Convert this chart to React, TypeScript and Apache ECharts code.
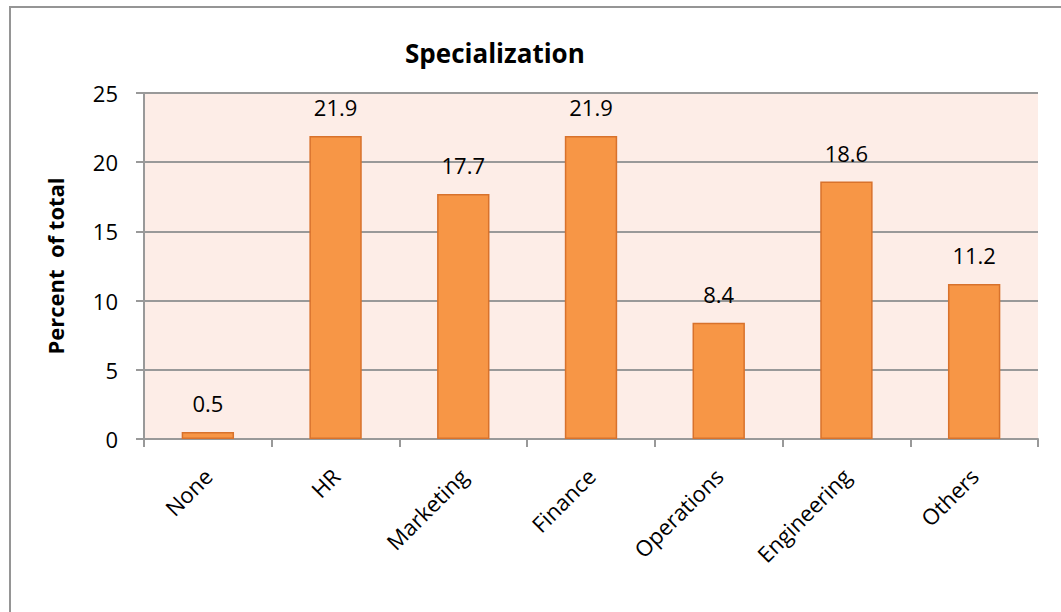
import React, { useEffect, useRef } from "react";
import * as echarts from "echarts";

const categories = ["None", "HR", "Marketing", "Finance", "Operations", "Engineering", "Others"];
const percentValues = [0.5, 21.9, 17.7, 21.9, 8.4, 18.6, 11.2];
const chartTitle = "Specialization";
const yAxisTitle = "Percent  of total";

export default function App() {
  const ref = useRef<HTMLDivElement>(null);
  useEffect(() => {
    if (!ref.current) return;
    const chart = echarts.init(ref.current, undefined, { renderer: "svg" });
    const font = "'Open Sans', 'Liberation Sans', sans-serif";
    chart.setOption({
      animation: false,
      backgroundColor: "#ffffff",
      textStyle: { fontFamily: font },
      title: {
        text: chartTitle,
        left: 400,
        top: 35,
        textStyle: { fontFamily: font, fontSize: 26, fontWeight: "bold", color: "#000" },
      },
      graphic: [
        {
          type: "rect",
          shape: { x: 10, y: 7, width: 1100, height: 700 },
          style: { fill: "none", stroke: "#959595", lineWidth: 2 },
          silent: true,
        },
      ],
      grid: {
        left: 144,
        right: 23,
        top: 93,
        bottom: 173,
        show: true,
        backgroundColor: "#fdede7",
        borderWidth: 0,
      },
      xAxis: {
        type: "category",
        data: categories,
        axisLine: { show: true, lineStyle: { color: "#999", width: 2 } },
        axisTick: { show: true, alignWithLabel: false, length: 8, lineStyle: { color: "#999", width: 2 } },
        axisLabel: {
          rotate: 45,
          margin: 33,
          fontSize: 22,
          color: "#000",
          fontFamily: font,
          interval: 0,
        },
      },
      yAxis: {
        type: "value",
        min: 0,
        max: 25,
        interval: 5,
        name: yAxisTitle,
        nameLocation: "middle",
        nameRotate: 90,
        nameGap: 78,
        nameTextStyle: { fontFamily: font, fontSize: 22, fontWeight: "bold", color: "#000" },
        axisLine: { show: true, lineStyle: { color: "#999", width: 2 } },
        axisTick: { show: true, length: 8, lineStyle: { color: "#999", width: 2 } },
        axisLabel: { margin: 26, fontSize: 22, color: "#000", fontFamily: font },
        splitLine: { show: true, lineStyle: { color: "#999", width: 2 } },
      },
      series: [
        {
          type: "bar",
          data: percentValues,
          barWidth: "41%",
          itemStyle: { color: "#f79646", borderColor: "#d8722c", borderWidth: 1.5 },
          label: {
            show: true,
            position: "top",
            distance: 18,
            fontSize: 22,
            color: "#000",
            fontFamily: font,
          },
        },
      ],
    });
    return () => chart.dispose();
  }, []);
  return (
    <div
      ref={ref}
      style={{ position: "fixed", left: 0, top: 0, width: 1061, height: 612 }}
    />
  );
}
